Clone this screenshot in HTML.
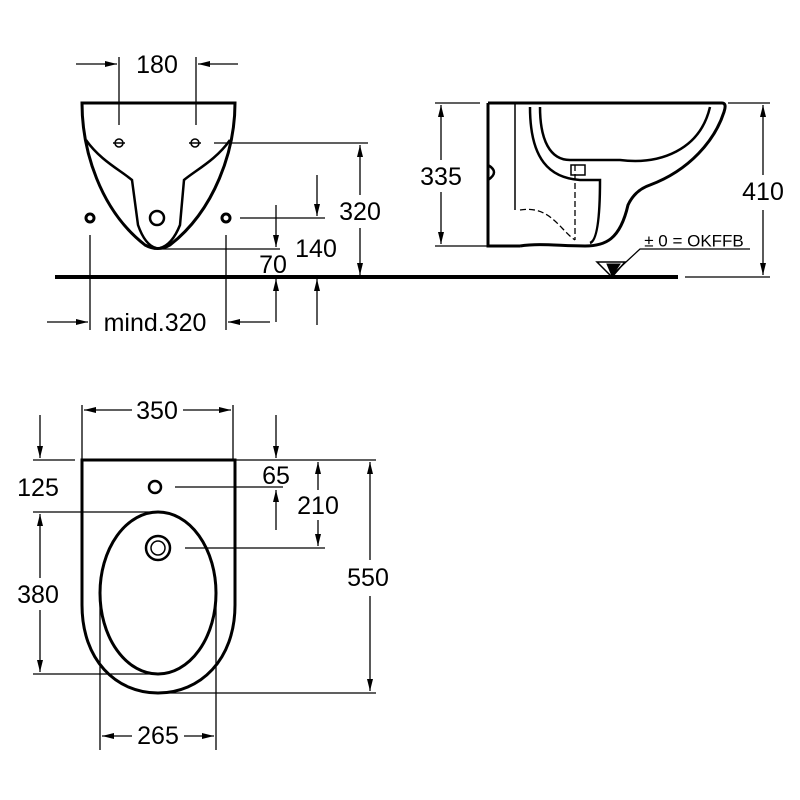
<!DOCTYPE html>
<html><head><style>html,body{margin:0;padding:0;background:#fff}svg{display:block}</style></head><body>
<svg width="800" height="800" viewBox="0 0 800 800" xmlns="http://www.w3.org/2000/svg" font-family="Liberation Sans, sans-serif" font-size="25" fill="none" stroke="#000">
<defs><marker id="a" viewBox="0 0 12 6" refX="12" refY="3" markerWidth="12" markerHeight="6" orient="auto" markerUnits="userSpaceOnUse"><path d="M0,0L12,3L0,6z" fill="#000" stroke="none"/></marker></defs>
<g stroke-width="1.3">
<line x1="76" y1="64" x2="117" y2="64" marker-end="url(#a)"/>
<line x1="238" y1="64" x2="198" y2="64" marker-end="url(#a)"/>
<line x1="119" y1="57" x2="119" y2="125"/><line x1="196" y1="57" x2="196" y2="125"/>
<line x1="214" y1="143" x2="368" y2="143"/>
<line x1="360" y1="195" x2="360" y2="145" marker-end="url(#a)"/>
<line x1="360" y1="228" x2="360" y2="275" marker-end="url(#a)"/>
<line x1="240" y1="218" x2="325" y2="218"/>
<line x1="317" y1="175" x2="317" y2="216" marker-end="url(#a)"/>
<line x1="158" y1="249" x2="280" y2="249"/>
<line x1="276" y1="205" x2="276" y2="247" marker-end="url(#a)"/>
<line x1="276" y1="322" x2="276" y2="279" marker-end="url(#a)"/>
<line x1="317" y1="325" x2="317" y2="279" marker-end="url(#a)"/>
<line x1="90" y1="235" x2="90" y2="330"/><line x1="226" y1="235" x2="226" y2="330"/>
<line x1="47" y1="322" x2="88" y2="322" marker-end="url(#a)"/>
<line x1="270" y1="322" x2="228" y2="322" marker-end="url(#a)"/>
<line x1="435" y1="103" x2="480" y2="103"/><line x1="435" y1="246" x2="487" y2="246"/>
<line x1="441" y1="160" x2="441" y2="105" marker-end="url(#a)"/>
<line x1="441" y1="192" x2="441" y2="244" marker-end="url(#a)"/>
<line x1="728" y1="103" x2="770" y2="103"/><line x1="685" y1="277" x2="770" y2="277"/>
<line x1="763" y1="175" x2="763" y2="105" marker-end="url(#a)"/>
<line x1="763" y1="210" x2="763" y2="275" marker-end="url(#a)"/>
<polyline points="750,249 640,249 612,275"/>
<line x1="82" y1="405" x2="82" y2="460"/><line x1="233" y1="405" x2="233" y2="460"/>
<line x1="132" y1="410" x2="84" y2="410" marker-end="url(#a)"/>
<line x1="183" y1="410" x2="231" y2="410" marker-end="url(#a)"/>
<line x1="40" y1="415" x2="40" y2="458" marker-end="url(#a)"/>
<line x1="33" y1="460" x2="75" y2="460"/>
<line x1="33" y1="512" x2="158" y2="512"/>
<line x1="40" y1="578" x2="40" y2="514" marker-end="url(#a)"/>
<line x1="40" y1="610" x2="40" y2="672" marker-end="url(#a)"/>
<line x1="33" y1="674" x2="160" y2="674"/>
<line x1="235" y1="460" x2="376" y2="460"/>
<line x1="160" y1="693" x2="376" y2="693"/>
<line x1="370" y1="560" x2="370" y2="462" marker-end="url(#a)"/>
<line x1="370" y1="596" x2="370" y2="691" marker-end="url(#a)"/>
<line x1="276" y1="415" x2="276" y2="458" marker-end="url(#a)"/>
<line x1="175" y1="487" x2="283" y2="487"/>
<line x1="276" y1="530" x2="276" y2="490" marker-end="url(#a)"/>
<line x1="318" y1="490" x2="318" y2="462" marker-end="url(#a)"/>
<line x1="318" y1="520" x2="318" y2="546" marker-end="url(#a)"/>
<line x1="185" y1="548" x2="325" y2="548"/>
<line x1="100" y1="600" x2="100" y2="750"/><line x1="216" y1="600" x2="216" y2="750"/>
<line x1="132" y1="736" x2="102" y2="736" marker-end="url(#a)"/>
<line x1="184" y1="736" x2="214" y2="736" marker-end="url(#a)"/>
</g>
<line x1="55" y1="277" x2="678" y2="277" stroke-width="4"/>
<path d="M597,262 L625,262 L612,277 Z" stroke-width="1.5"/>
<path d="M607,264 L620,264 L612,276 Z" fill="#000"/>
<g stroke-width="3">
<path d="M82,103 L235,103 C235,150 215,210 170,245 Q158,252 145,245 C100,210 82,150 82,103 Z"/>
<path d="M86,140 C100,160 120,170 132,180 L138,225 Q145,245 156,248" stroke-width="2.5"/>
<path d="M230,140 C216,160 196,170 184,180 L180,225 Q172,245 160,248" stroke-width="2.5"/>
</g>
<g stroke-width="1.5"><circle cx="119" cy="143" r="4"/><circle cx="195" cy="143" r="4"/><line x1="113" y1="143" x2="125" y2="143"/><line x1="189" y1="143" x2="201" y2="143"/></g>
<circle cx="90" cy="218" r="4" stroke-width="3"/><circle cx="226" cy="218" r="4" stroke-width="3"/>
<circle cx="157" cy="218" r="7" stroke-width="2.5"/>
<g stroke-width="3">
<path d="M488,103 L488,246 L520,246"/>
<path d="M488,103 L722,103 Q727,103 724,112 C715,140 690,170 650,185 Q635,190 628,205 C620,240 605,246 585,246 C560,246 540,243 520,246"/>
<path d="M530,107 C530,160 550,178 580,180 L600,180 Q600,240 590,243" stroke-width="2.5"/>
<path d="M710,107 C700,150 660,165 620,160 L570,160 C550,160 540,140 540,107" stroke-width="2.5"/>
<line x1="515" y1="103" x2="515" y2="210" stroke-width="1.5"/>
<path d="M488,165 Q500,172 488,180" stroke-width="2.5"/>
</g>
<g stroke-width="1.3" stroke-dasharray="6,3">
<line x1="575" y1="165" x2="575" y2="240"/><path d="M520,210 C550,205 560,230 575,240"/>
</g>
<rect x="571" y="165" width="14" height="10" stroke-width="1.5"/>
<g stroke-width="3">
<path d="M82,460 L235,460 L235,605 C235,660 200,693 158,693 C116,693 82,660 82,605 Z"/>
<ellipse cx="158" cy="593" rx="58" ry="81"/>
</g>
<circle cx="155" cy="487" r="6" stroke-width="2.5"/>
<circle cx="158" cy="548" r="12" stroke-width="2.5"/><circle cx="158" cy="548" r="7" stroke-width="1.5"/>
<g fill="#000" stroke="none" text-anchor="middle" dominant-baseline="central">
<text x="157" y="65">180</text>
<text x="360" y="212">320</text>
<text x="316" y="249">140</text>
<text x="273" y="265">70</text>
<text x="155" y="323">mind.320</text>
<text x="441" y="177">335</text>
<text x="763" y="192">410</text>
<text x="694" y="241" font-size="17">± 0 = OKFFB</text>
<text x="157" y="411">350</text>
<text x="38" y="488">125</text>
<text x="38" y="595">380</text>
<text x="276" y="476">65</text>
<text x="318" y="506">210</text>
<text x="368" y="578">550</text>
<text x="158" y="736">265</text>
</g>
</svg>
</body></html>
